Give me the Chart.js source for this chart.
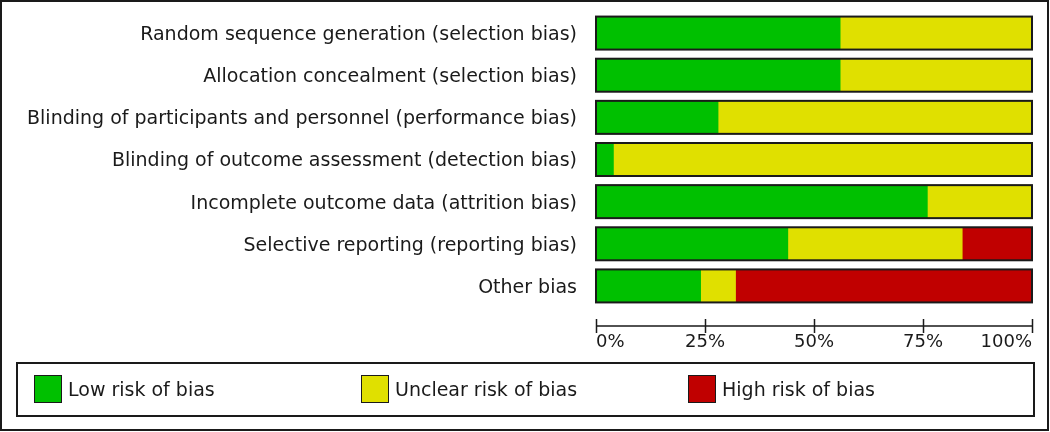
<!DOCTYPE html>
<html>
<head>
<meta charset="utf-8">
<script src="https://cdn.jsdelivr.net/npm/chart.js@4.4.0/dist/chart.umd.min.js"></script>
<style>
html, body { margin: 0; padding: 0; background: #fff; }
#wrap { position: relative; width: 1050px; height: 432px; }
#frame { position: absolute; left: 0; top: 0; width: 1049px; height: 431px; border: 2px solid #1a1a1a; box-sizing: border-box; pointer-events: none; }
#legend { position: absolute; left: 16px; top: 362px; width: 1019px; height: 55px; border: 2px solid #1a1a1a; box-sizing: border-box; font-family: 'DejaVu Sans'; font-size: 19px; color: #1a1a1a; }
.item { position: absolute; top: 11px; display: flex; align-items: center; height: 28px; }
.sw { width: 28px; height: 28px; box-sizing: border-box; border: 1.5px solid #1a1a1a; margin-right: 6px; }
</style>
</head>
<body>
<div id="wrap">
  <canvas id="MyChart" width="1050" height="432"></canvas>
  <div id="legend"></div>
  <div id="frame"></div>
</div>
<script>
const categories = [
  'Random sequence generation (selection bias)',
  'Allocation concealment (selection bias)',
  'Blinding of participants and personnel (performance bias)',
  'Blinding of outcome assessment (detection bias)',
  'Incomplete outcome data (attrition bias)',
  'Selective reporting (reporting bias)',
  'Other bias'
];
const lowRisk     = [56, 56, 28, 4, 76, 44, 24];
const unclearRisk = [44, 44, 72, 96, 24, 40, 8];
const highRisk    = [0, 0, 0, 0, 0, 16, 68];
const seriesNames = ['Low risk of bias', 'Unclear risk of bias', 'High risk of bias'];
const seriesColors = ['#00c000', '#e0e000', '#c00000'];
const xTicks = [0, 25, 50, 75, 100];

// outline round each whole bar, plus the axis line with crossing ticks
const outlinePlugin = {
  id: 'outline',
  afterDatasetsDraw(chart) {
    const ctx = chart.ctx;
    const x = chart.scales.x;
    const meta = chart.getDatasetMeta(0);
    ctx.save();
    ctx.strokeStyle = '#1a1a1a';
    ctx.lineWidth = 2;
    meta.data.forEach(bar => {
      const h = bar.height;
      const x0 = x.getPixelForValue(0), x1 = x.getPixelForValue(100);
      ctx.strokeRect(x0, bar.y - h / 2, x1 - x0, h);
    });
    const ay = chart.chartArea.bottom + 19;
    ctx.lineWidth = 1.5;
    ctx.beginPath();
    ctx.moveTo(x.getPixelForValue(0), ay);
    ctx.lineTo(x.getPixelForValue(100), ay);
    xTicks.forEach(t => {
      const px = Math.round(x.getPixelForValue(t)) + 0.5;
      ctx.moveTo(px, ay - 7);
      ctx.lineTo(px, ay + 7);
    });
    ctx.stroke();
    ctx.restore();
  }
};

const ctx = document.getElementById('MyChart').getContext('2d');
const myChart = new Chart(ctx, {
  type: 'bar',
  data: {
    labels: categories,
    datasets: [
      { label: seriesNames[0], data: lowRisk, backgroundColor: seriesColors[0] },
      { label: seriesNames[1], data: unclearRisk, backgroundColor: seriesColors[1] },
      { label: seriesNames[2], data: highRisk, backgroundColor: seriesColors[2] }
    ]
  },
  options: {
    indexAxis: 'y',
    responsive: false,
    animation: false,
    datasets: { bar: { barThickness: 33, borderWidth: 0 } },
    layout: { padding: { left: 0, right: 18, top: 12, bottom: 75 } },
    plugins: { legend: { display: false }, tooltip: { enabled: false } },
    scales: {
      x: {
        stacked: true,
        min: 0,
        max: 100,
        afterFit: s => { s.height = 50; s.paddingLeft = 0; s.paddingRight = 0; },
        afterBuildTicks: s => { s.ticks = xTicks.map(v => ({ value: v })); },
        grid: { display: false, drawTicks: false },
        border: { display: false },
        ticks: {
          align: 'inner',
          padding: 25,
          color: '#1a1a1a',
          font: { family: 'DejaVu Sans', size: 18 },
          callback: v => v + '%'
        }
      },
      y: {
        stacked: true,
        afterFit: s => { s.width = 596; s.paddingTop = 0; s.paddingBottom = 0; },
        grid: { display: false, drawTicks: false },
        border: { display: false },
        ticks: {
          padding: 19,
          labelOffset: 2,
          color: '#1a1a1a',
          font: { family: 'DejaVu Sans', size: 19 }
        }
      }
    }
  },
  plugins: [outlinePlugin]
});

// legend in three fixed columns
const legend = document.getElementById('legend');
seriesNames.forEach((name, i) => {
  const item = document.createElement('div');
  item.className = 'item';
  item.style.left = (16 + i * 327) + 'px';
  const sw = document.createElement('div');
  sw.className = 'sw';
  sw.style.background = seriesColors[i];
  const tx = document.createElement('span');
  tx.textContent = name;
  item.appendChild(sw);
  item.appendChild(tx);
  legend.appendChild(item);
});
</script>
</body>
</html>
